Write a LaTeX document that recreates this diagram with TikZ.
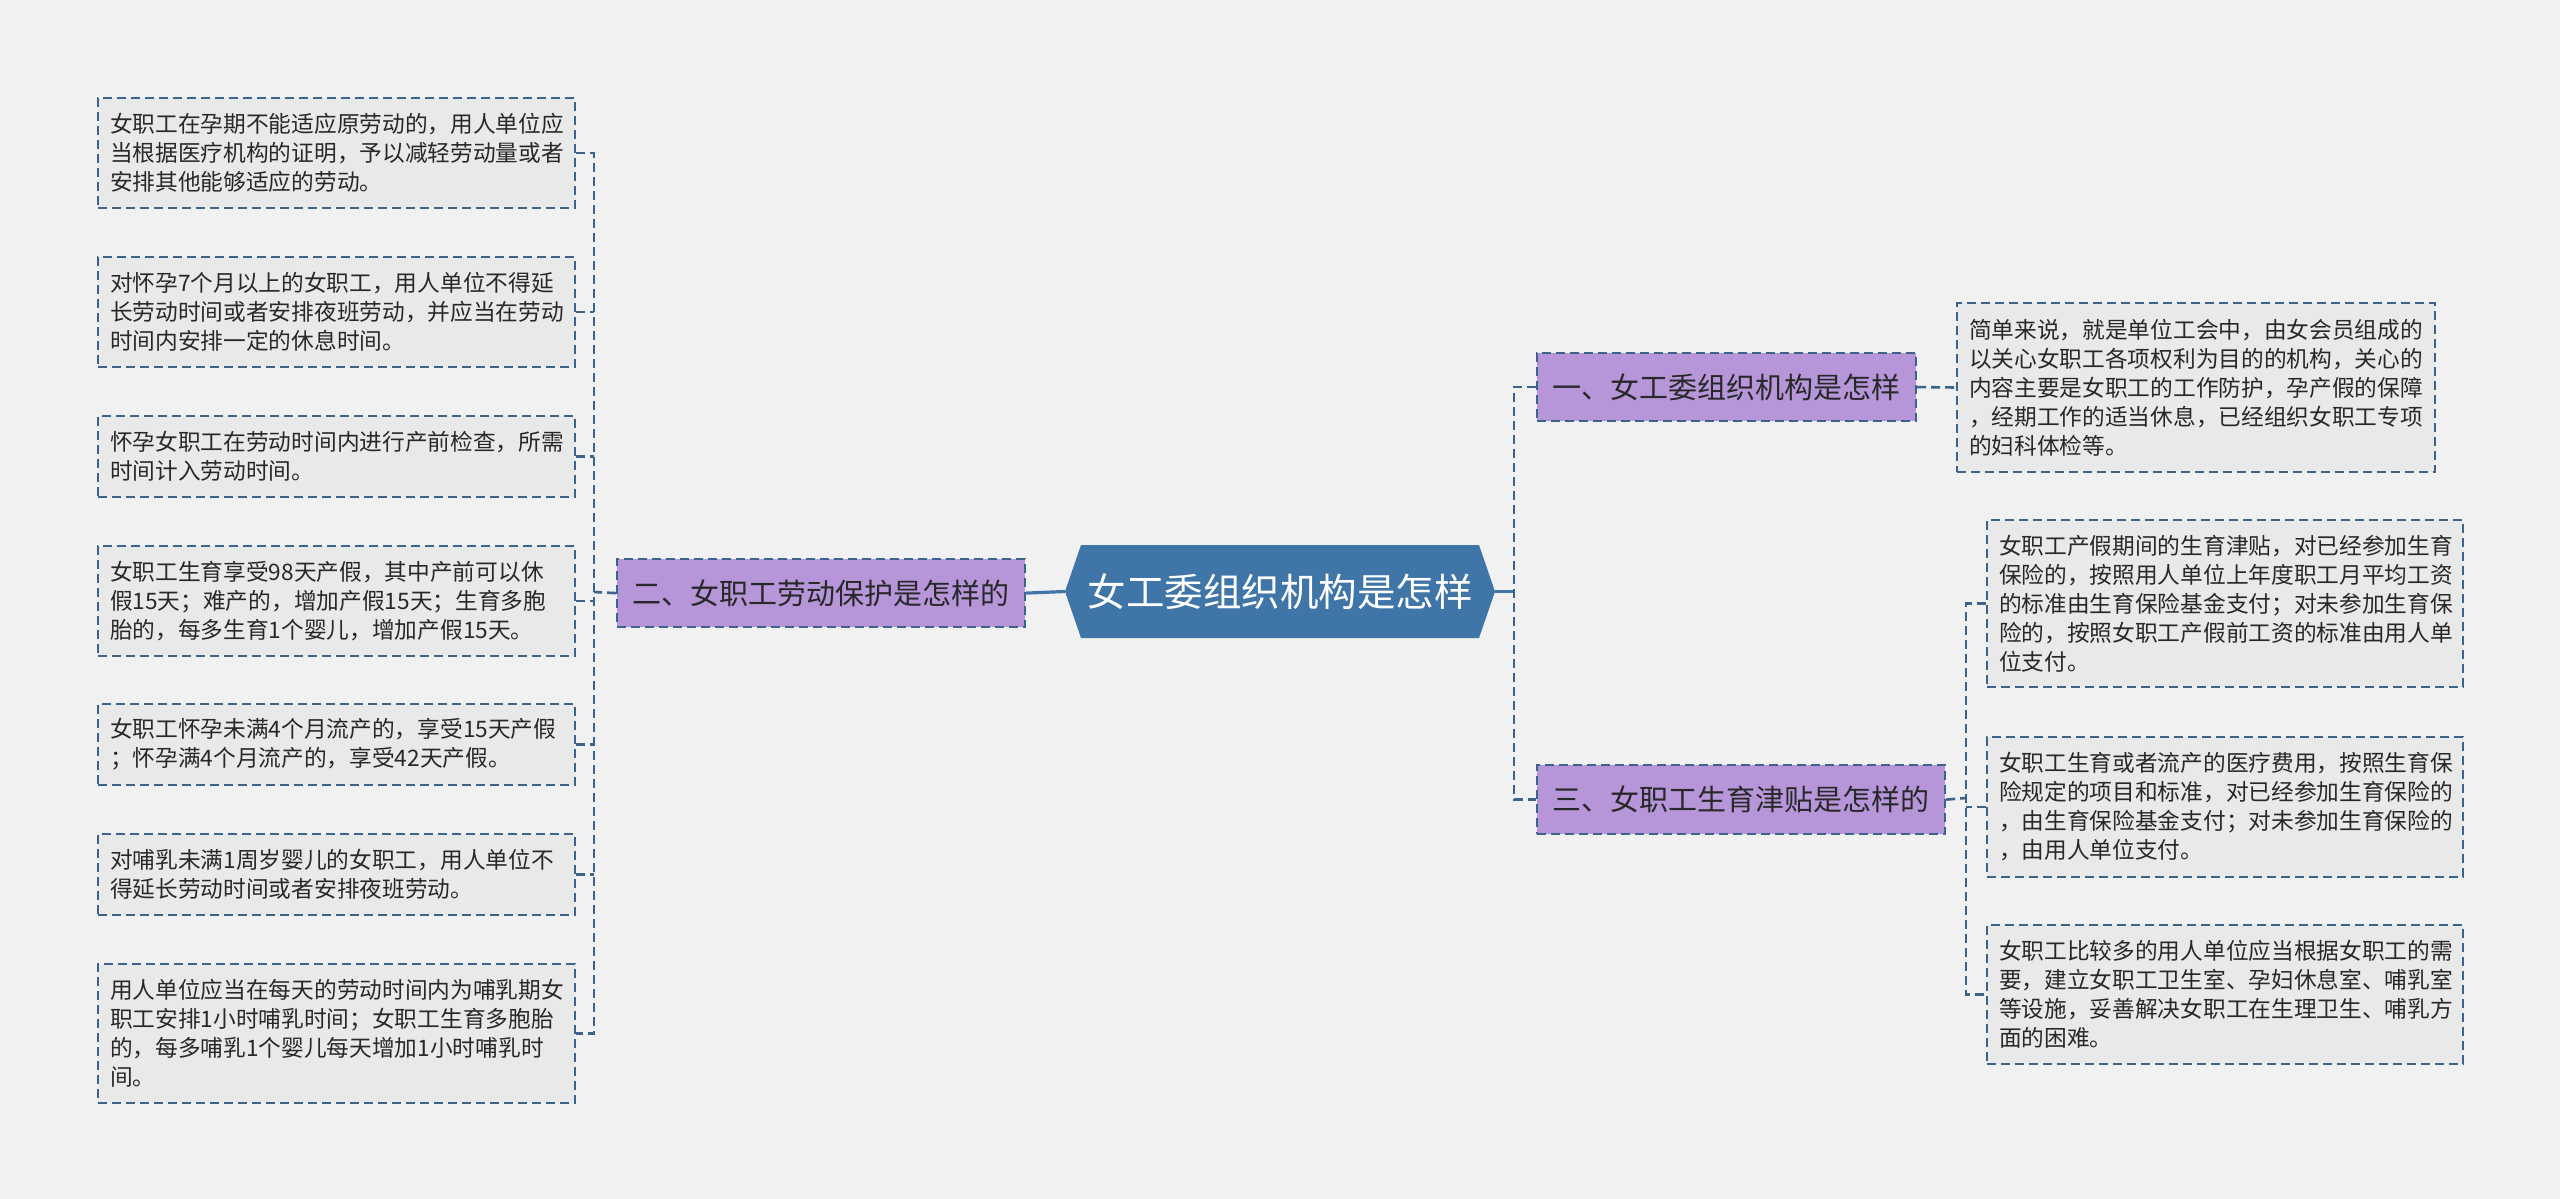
\documentclass[tikz,border=0pt]{standalone}
\usepackage{fontspec}
\setmainfont{Noto Sans CJK SC}
\definecolor{bgc}{RGB}{241,241,241}
\definecolor{leaff}{RGB}{233,233,233}
\definecolor{bordc}{RGB}{58,100,142}
\definecolor{lavc}{RGB}{182,150,217}
\definecolor{rootc}{RGB}{64,117,168}
\definecolor{txtc}{RGB}{40,40,40}
\newcommand\lfnt{\fontsize{22.7}{29}\selectfont}
\newcommand\brfnt{\fontsize{29}{34}\selectfont}
\newcommand\rtfnt{\fontsize{38.5}{44}\selectfont}
\begin{document}
\begin{tikzpicture}[x=1pt,y=-1pt,
  leaf/.style={draw=bordc, dash pattern=on 9pt off 5pt, line width=2pt, fill=leaff,
    text=txtc, font=\lfnt, align=left, inner xsep=12pt, inner ysep=0pt, anchor=north west},
  branch/.style={draw=bordc, dash pattern=on 9pt off 5pt, line width=2.2pt, fill=lavc,
    text=txtc, font=\brfnt, inner sep=0pt, anchor=north west},
  conn/.style={draw=bordc, dash pattern=on 9pt off 5pt, line width=2.6pt},
  trunk/.style={draw=rootc, line width=3.2pt}]
\useasboundingbox (0,0) rectangle (2560,1199);
\fill[bgc] (0,0) rectangle (2560,1199);

% root
\fill[rootc] (1065,591.5) -- (1081,545) -- (1479,545) -- (1495,591.5) -- (1479,638) -- (1081,638) -- cycle;
\node[font=\rtfnt, text=white, minimum width=430pt, minimum height=93pt, inner sep=0pt] (root) at (1280,591.5) {女工委组织机构是怎样};

% branches
\node[branch, minimum width=408pt, minimum height=68pt] (B2) at (616,558) {二、女职工劳动保护是怎样的};
\node[branch, minimum width=379pt, minimum height=68pt] (B1) at (1536,352) {一、女工委组织机构是怎样};
\node[branch, minimum width=408pt, minimum height=69pt] (B3) at (1536,764) {三、女职工生育津贴是怎样的};

% left leaves
\node[leaf, text width=453pt, minimum height=110pt] (L1) at (97,97) {女职工在孕期不能适应原劳动的，用人单位应\\当根据医疗机构的证明，予以减轻劳动量或者\\安排其他能够适应的劳动。};
\node[leaf, text width=453pt, minimum height=110pt] (L2) at (97,256) {对怀孕7个月以上的女职工，用人单位不得延\\长劳动时间或者安排夜班劳动，并应当在劳动\\时间内安排一定的休息时间。};
\node[leaf, text width=453pt, minimum height=81pt] (L3) at (97,415) {怀孕女职工在劳动时间内进行产前检查，所需\\时间计入劳动时间。};
\node[leaf, text width=453pt, minimum height=110pt] (L4) at (97,545) {女职工生育享受98天产假，其中产前可以休\\假15天；难产的，增加产假15天；生育多胞\\胎的，每多生育1个婴儿，增加产假15天。};
\node[leaf, text width=453pt, minimum height=81pt] (L5) at (97,703) {女职工怀孕未满4个月流产的，享受15天产假\\；怀孕满4个月流产的，享受42天产假。};
\node[leaf, text width=453pt, minimum height=81pt] (L6) at (97,833) {对哺乳未满1周岁婴儿的女职工，用人单位不\\得延长劳动时间或者安排夜班劳动。};
\node[leaf, text width=453pt, minimum height=139pt] (L7) at (97,963) {用人单位应当在每天的劳动时间内为哺乳期女\\职工安排1小时哺乳时间；女职工生育多胞胎\\的，每多哺乳1个婴儿每天增加1小时哺乳时\\间。};

% right leaves
\node[leaf, text width=454pt, minimum height=169pt] (R1) at (1956,302) {简单来说，就是单位工会中，由女会员组成的\\以关心女职工各项权利为目的的机构，关心的\\内容主要是女职工的工作防护，孕产假的保障\\，经期工作的适当休息，已经组织女职工专项\\的妇科体检等。};
\node[leaf, text width=452pt, minimum height=167pt] (R2) at (1986,519) {女职工产假期间的生育津贴，对已经参加生育\\保险的，按照用人单位上年度职工月平均工资\\的标准由生育保险基金支付；对未参加生育保\\险的，按照女职工产假前工资的标准由用人单\\位支付。};
\node[leaf, text width=452pt, minimum height=140pt] (R3) at (1986,736) {女职工生育或者流产的医疗费用，按照生育保\\险规定的项目和标准，对已经参加生育保险的\\，由生育保险基金支付；对未参加生育保险的\\，由用人单位支付。};
\node[leaf, text width=452pt, minimum height=139pt] (R4) at (1986,924) {女职工比较多的用人单位应当根据女职工的需\\要，建立女职工卫生室、孕妇休息室、哺乳室\\等设施，妥善解决女职工在生理卫生、哺乳方\\面的困难。};

% connectors left
\coordinate (busL) at (594,592);
\draw[trunk] (root.west) -- (B2.east);
\draw[conn] (B2.west) -- (busL);
\draw[conn] (L1.east) -- (L1.east -| busL) -- (L7.east -| busL) -- (L7.east);
\foreach \n in {L2,L3,L4,L5,L6} {\draw[conn] (\n.east) -- (\n.east -| busL);}

% connectors right
\coordinate (busR) at (1514,591.5);
\draw[trunk] (root.east) -- (busR);
\draw[conn] (B1.west) -- (B1.west -| busR) -- (B3.west -| busR) -- (B3.west);
\draw[conn] (B1.east) -- (R1.west);
\coordinate (busR2) at (1966,798);
\draw[conn] (B3.east) -- (busR2);
\draw[conn] (R2.west) -- (R2.west -| busR2) -- (R4.west -| busR2) -- (R4.west);
\draw[conn] (R3.west) -- (R3.west -| busR2);
\end{tikzpicture}
\end{document}
